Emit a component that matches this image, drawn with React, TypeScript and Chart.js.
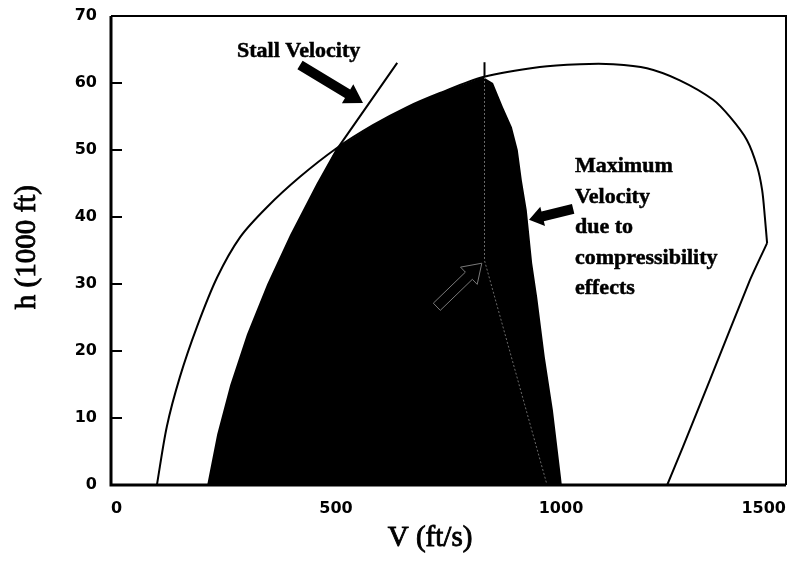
import React, { useEffect, useRef } from "react";
import { Chart, registerables } from "chart.js";

Chart.register(...registerables);

// Flight envelope (outer curve), V in ft/s, h in 1000 ft
const envelopeV = [102, 124, 153, 191, 236, 287, 347, 420, 502, 582, 658, 731, 827, 953, 1042, 1116, 1191, 1264, 1338, 1376, 1413, 1436, 1447, 1453, 1458];
const envelopeH = [0, 8.7, 16.1, 23.6, 31.0, 37.0, 41.5, 46.0, 50.3, 53.7, 56.4, 58.5, 60.9, 62.4, 62.8, 62.8, 62.2, 60.4, 57.5, 54.9, 51.5, 47.5, 44.0, 40.0, 36.1];
// Lower right branch of the envelope
const branchV = [1458, 1420, 1331, 1271, 1236];
const branchH = [36.1, 30.6, 15.7, 5.7, 0];
// Stall velocity line
const stallV = [216, 238, 267, 304, 349, 400, 458, 502, 636];
const stallH = [0, 7.5, 14.9, 22.4, 29.9, 37.3, 44.8, 50.1, 63.0];
// Shaded region (usable envelope)
const regionV = [216, 238, 267, 304, 349, 400, 458, 502, 582, 658, 731, 827, 849, 871, 891, 904, 913, 924, 936, 947, 964, 982, 1002];
const regionH = [0, 7.5, 14.9, 22.4, 29.9, 37.3, 44.8, 50.3, 53.7, 56.4, 58.5, 60.9, 60.0, 56.4, 53.4, 50.0, 45.5, 41.0, 33.1, 28.1, 19.1, 11.2, 0];
// Mach limit line
const machTopV = [830, 830];
const machTopH = [60.9, 63.1];
const machV = [830, 830, 969];
const machH = [60.9, 33.5, 0];

// Tick values
const xTicks = [0, 500, 1000, 1500];
const yTicks = [0, 10, 20, 30, 40, 50, 60, 70];

// Annotations (data coordinates)
const stallLabel = "Stall Velocity";
const stallLabelAt = [280, 63.9];
const maxLabelLines = ["Maximum", "Velocity", "due to", "compressibility", "effects"];
const maxLabelAt = [1031, 46.7];
const stallArrow = { from: [420, 62.7], to: [560, 57.0] };
const maxArrow = { from: [1027, 41.2], to: [929, 39.6] };
const grayArrow = { from: [724, 26.6], to: [824, 33.1] };
const xTitle = "V (ft/s)";
const xTitleV = 709;
const yTitle = "h (1000 ft)";
const yTitleH = 35.5;

const pts = (xs: number[], ys: number[]) => xs.map((v, i) => ({ x: v, y: ys[i] }));

const SERIF = '"Liberation Serif", "Times New Roman", serif';
const TICKFONT = { family: '"DejaVu Sans", sans-serif', weight: "bold" as const, size: 16 };

function arrowPath(ctx: CanvasRenderingContext2D, x1: number, y1: number, x2: number, y2: number, sw: number, hw: number, hl: number) {
  const dx = x2 - x1, dy = y2 - y1;
  const len = Math.hypot(dx, dy);
  const ux = dx / len, uy = dy / len;
  const nx = -uy, ny = ux;
  const bx = x2 - ux * hl, by = y2 - uy * hl;
  ctx.beginPath();
  ctx.moveTo(x1 + nx * sw / 2, y1 + ny * sw / 2);
  ctx.lineTo(bx + nx * sw / 2, by + ny * sw / 2);
  ctx.lineTo(bx + nx * hw, by + ny * hw);
  ctx.lineTo(x2, y2);
  ctx.lineTo(bx - nx * hw, by - ny * hw);
  ctx.lineTo(bx - nx * sw / 2, by - ny * sw / 2);
  ctx.lineTo(x1 - nx * sw / 2, y1 - ny * sw / 2);
  ctx.closePath();
}

function heavyText(ctx: CanvasRenderingContext2D, s: string, x: number, y: number) {
  ctx.fillText(s, x, y);
  ctx.strokeText(s, x, y);
}

const overlay = {
  id: "overlay",
  afterDatasetsDraw(chart: any) {
    const { ctx, chartArea: a, scales } = chart;
    const x = scales.x, y = scales.y;
    const px = (v: number) => x.getPixelForValue(v);
    const py = (h: number) => y.getPixelForValue(h);
    ctx.save();
    ctx.strokeStyle = "#000";
    ctx.lineCap = "butt";
    // frame
    ctx.lineWidth = 3;
    ctx.beginPath();
    ctx.moveTo(a.left, a.top);
    ctx.lineTo(a.left, a.bottom);
    ctx.lineTo(a.right, a.bottom);
    ctx.stroke();
    ctx.lineWidth = 2;
    ctx.beginPath();
    ctx.moveTo(a.left, a.top);
    ctx.lineTo(a.right, a.top);
    ctx.lineTo(a.right, a.bottom);
    ctx.stroke();
    // inward y ticks
    ctx.lineWidth = 2;
    yTicks.forEach((t) => {
      if (t > 0 && t < 70) {
        const yy = py(t);
        ctx.beginPath();
        ctx.moveTo(a.left, yy);
        ctx.lineTo(a.left + 11, yy);
        ctx.stroke();
      }
    });
    // arrows
    ctx.fillStyle = "#000";
    arrowPath(ctx, px(stallArrow.from[0]), py(stallArrow.from[1]), px(stallArrow.to[0]), py(stallArrow.to[1]), 10, 11, 18);
    ctx.fill();
    arrowPath(ctx, px(maxArrow.from[0]), py(maxArrow.from[1]), px(maxArrow.to[0]), py(maxArrow.to[1]), 10, 10, 14);
    ctx.fill();
    ctx.strokeStyle = "#7a7a7a";
    ctx.lineWidth = 1;
    arrowPath(ctx, px(grayArrow.from[0]), py(grayArrow.from[1]), px(grayArrow.to[0]), py(grayArrow.to[1]), 10, 12, 18);
    ctx.stroke();
    // annotation text
    ctx.fillStyle = "#000";
    ctx.strokeStyle = "#000";
    ctx.lineWidth = 0.5;
    ctx.font = `bold 22px ${SERIF}`;
    ctx.textAlign = "left";
    ctx.textBaseline = "alphabetic";
    heavyText(ctx, stallLabel, px(stallLabelAt[0]), py(stallLabelAt[1]));
    const mx = px(maxLabelAt[0]);
    const my = py(maxLabelAt[1]);
    maxLabelLines.forEach((s, i) => heavyText(ctx, s, mx, my + i * 30.5));
    // axis titles
    ctx.lineWidth = 0.9;
    ctx.font = `29px ${SERIF}`;
    ctx.textAlign = "center";
    ctx.textBaseline = "middle";
    heavyText(ctx, xTitle, px(xTitleV), a.bottom + 53);
    ctx.save();
    ctx.translate(27, py(yTitleH));
    ctx.rotate(-Math.PI / 2);
    heavyText(ctx, yTitle, 0, 0);
    ctx.restore();
    ctx.restore();
  },
};

export default function App() {
  const ref = useRef<HTMLCanvasElement>(null);
  useEffect(() => {
    const chart = new Chart(ref.current!, {
      type: "scatter",
      data: {
        datasets: [
          {
            data: pts(envelopeV, envelopeH),
            showLine: true,
            borderColor: "#000",
            borderWidth: 2,
            pointRadius: 0,
            tension: 0.3,
            fill: false,
            order: 1,
          },
          {
            data: pts(branchV, branchH),
            showLine: true,
            borderColor: "#000",
            borderWidth: 2,
            pointRadius: 0,
            tension: 0.2,
            fill: false,
            order: 1,
          },
          {
            data: pts(stallV, stallH),
            showLine: true,
            borderColor: "#000",
            borderWidth: 2,
            pointRadius: 0,
            tension: 0,
            fill: false,
            order: 1,
          },
          {
            data: pts(machTopV, machTopH),
            showLine: true,
            borderColor: "#000",
            borderWidth: 2,
            pointRadius: 0,
            fill: false,
            order: 1,
          },
          {
            data: pts(machV, machH),
            showLine: true,
            borderColor: "#6a6a6a",
            borderWidth: 1,
            borderDash: [2, 2],
            pointRadius: 0,
            fill: false,
            order: 2,
          },
          {
            data: pts(regionV, regionH),
            showLine: true,
            borderColor: "#000",
            borderWidth: 0,
            backgroundColor: "#000",
            pointRadius: 0,
            tension: 0,
            fill: "origin",
            order: 5,
          },
        ],
      },
      options: {
        responsive: false,
        animation: false,
        devicePixelRatio: 1,
        layout: { padding: { top: 16, right: 3, left: 0, bottom: 0 } },
        plugins: { legend: { display: false }, tooltip: { enabled: false } },
        events: [],
        scales: {
          x: {
            type: "linear",
            position: "bottom",
            min: 0,
            max: 1500,
            afterFit: (s: any) => {
              s.height = 76;
              s.paddingLeft = 0;
              s.paddingRight = 0;
            },
            afterBuildTicks: (s: any) => {
              s.ticks = xTicks.map((v) => ({ value: v }));
            },
            grid: { display: false, drawTicks: false, tickLength: 0 },
            border: { display: false },
            ticks: {
              padding: 14,
              align: "inner",
              font: TICKFONT,
              color: "#000",
              maxRotation: 0,
              autoSkip: false,
              callback: (v: any) => String(v),
            },
          },
          y: {
            type: "linear",
            min: 0,
            max: 70,
            afterFit: (s: any) => {
              s.width = 111;
              s.paddingTop = 0;
              s.paddingBottom = 0;
            },
            afterBuildTicks: (s: any) => {
              s.ticks = yTicks.map((v) => ({ value: v }));
            },
            grid: { display: false, drawTicks: false, tickLength: 0 },
            border: { display: false },
            ticks: { padding: 14, font: TICKFONT, color: "#000", autoSkip: false, callback: (v: any) => String(v) },
          },
        },
      },
      plugins: [overlay],
    });
    return () => chart.destroy();
  }, []);
  return (
    <div style={{ position: "fixed", left: 0, top: 0, width: 789, height: 561, background: "#fff" }}>
      <canvas ref={ref} width={789} height={561} style={{ width: 789, height: 561, display: "block" }} />
    </div>
  );
}
